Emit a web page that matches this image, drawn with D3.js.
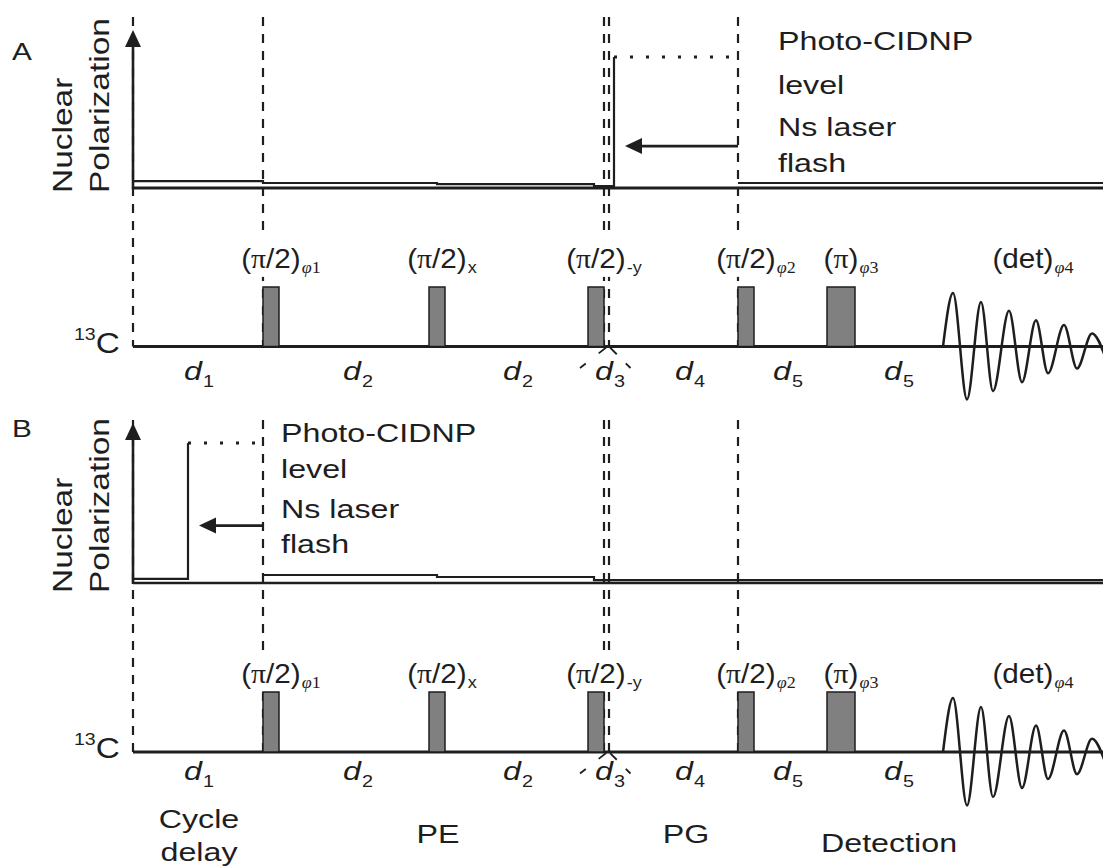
<!DOCTYPE html>
<html>
<head>
<meta charset="utf-8">
<script src="https://cdn.jsdelivr.net/npm/d3@7"></script>
<style>
  body { margin: 0; background: #fff; }
  svg { display: block; }
  text { font-family: "Liberation Sans", Arial, sans-serif; fill: #1e1e1e; }
</style>
</head>
<body>
<svg id="chart" width="1103" height="868"></svg>
<script>
// ---- sequence data (time units along the shared horizontal axis) ----
const panelNames = ["A", "B"];
const markerTimes = [0, 130, 471, 476, 605];          // dashed event markers
const pulseStart = [130, 296, 455, 605, 694];
const pulseLength = [16, 16, 16, 16, 28];
const pulseAngle = ["(π/2)", "(π/2)", "(π/2)", "(π/2)", "(π)"];
const pulsePhase = ["φ1", "x", "-y", "φ2", "φ3"];
const acqStart = 810;
const acqAngle = "(det)";
const acqPhase = "φ4";
// free induction decay extrema: time after acqStart, amplitude (1 = pulse height)
const fidTime = [0, 10, 24, 38, 50, 66, 79, 93, 105, 121, 134, 149, 163];
const fidAmp = [0, 0.90, -0.89, 0.75, -0.75, 0.60, -0.60, 0.44, -0.45, 0.36, -0.37, 0.22, -0.21];
const delayNames = ["1", "2", "2", "3", "4", "5", "5"];
const delayTimes = [66, 225, 385, 477, 557, 655, 766];
const stageNames = [["Cycle", "delay"], ["PE"], ["PG"], ["Detection"]];
const stageTimes = [66, 305, 553, 756];
const noteLines = ["Photo-CIDNP", "level", "Ns laser", "flash"];
// nuclear polarization (1 = photo-CIDNP level)
const flashTimes = [481, 55];
const noteTimes = [605, 130];                          // where the flash arrow starts
const arrowLevels = [0.32, 0.41];
const polBefore = [
  [[0, 0.053], [130, 0.053], [130, 0.038], [304, 0.038], [304, 0.030], [461, 0.030], [461, 0.015], [481, 0.015], [481, 1]],
  [[0, 0.029], [55, 0.029], [55, 1]]
];
const polHeld = [
  [[481, 1], [605, 1]],
  [[55, 1], [130, 1]]
];
const polAfter = [
  [[605, 0.038], [970, 0.038]],
  [[130, 0.057], [304, 0.057], [304, 0.043], [461, 0.043], [461, 0.021], [970, 0.021]]
];

// ---- layout ----
const ink = "#1e1e1e";
const svg = d3.select("#chart");
const x = d3.scaleLinear().domain([0, 970]).range([133, 1103]);
const layout = [
  { polBase: 188, polLevel: 57, axisTop: 30, dashTop: 17, cBase: 346.5, cTop: 287,
    pulseLabelY: 268, delayY: 380, letterY: 60, rotY: 193, noteX: 778, noteY: [50, 94, 136, 172], polStroke: 3 },
  { polBase: 583, polLevel: 443, axisTop: 423, dashTop: 420, cBase: 752, cTop: 692,
    pulseLabelY: 683, delayY: 780, letterY: 437, rotY: 593, noteX: 281, noteY: [442, 478, 518, 553], polStroke: 2.5 }
];
const SX = 1.24;   // horizontal stretch of the lettering

function words(g, str, px, py, size, opts = {}) {
  const t = g.append("text")
    .attr("transform", `translate(${px},${py})` + (opts.rotate ? " rotate(-90)" : "") + ` scale(${opts.sx || SX},1)`)
    .attr("font-size", size)
    .attr("text-anchor", opts.anchor || "start")
    .text(str);
  return t;
}

const gDash = svg.append("g");
const gMask = svg.append("g");
const gMarks = svg.append("g");
const gText = svg.append("g");

panelNames.forEach((name, i) => {
  const L = layout[i];
  const yP = d3.scaleLinear().domain([0, 1]).range([L.polBase, L.polLevel]);
  const yC = d3.scaleLinear().domain([0, 1]).range([L.cBase, L.cTop]);
  const line = d3.line().x(d => x(d[0])).y(d => yP(d[1]));

  // dashed event markers
  gDash.selectAll(null).data(markerTimes).join("line")
    .attr("x1", d => x(d)).attr("x2", d => x(d))
    .attr("y1", L.dashTop).attr("y2", L.cBase)
    .attr("stroke", ink).attr("stroke-width", 2.2)
    .attr("stroke-dasharray", "9,8");

  // polarization axis
  gMarks.append("line")
    .attr("x1", x(0)).attr("x2", x(970)).attr("y1", L.polBase).attr("y2", L.polBase)
    .attr("stroke", ink).attr("stroke-width", L.polStroke);
  gMarks.append("line")
    .attr("x1", x(0)).attr("x2", x(0)).attr("y1", L.polBase + 1).attr("y2", L.axisTop + 12)
    .attr("stroke", ink).attr("stroke-width", 2.6);
  gMarks.append("path")
    .attr("d", `M${x(0)},${L.axisTop} L${x(0) - 8},${L.axisTop + 17} L${x(0) + 8},${L.axisTop + 17} Z`)
    .attr("fill", ink);

  // polarization trace
  gMarks.append("path").datum(polBefore[i]).attr("d", line)
    .attr("fill", "none").attr("stroke", ink).attr("stroke-width", 2.2);
  gMarks.append("path").datum(polHeld[i]).attr("d", line)
    .attr("fill", "none").attr("stroke", ink).attr("stroke-width", 3)
    .attr("stroke-dasharray", "3,13");
  gMarks.append("path").datum(polAfter[i]).attr("d", line)
    .attr("fill", "none").attr("stroke", ink).attr("stroke-width", 2.2);

  // laser flash arrow
  const ay = yP(arrowLevels[i]);
  const tip = x(flashTimes[i]) + 11;
  gMarks.append("line")
    .attr("x1", x(noteTimes[i])).attr("x2", tip + 12).attr("y1", ay).attr("y2", ay)
    .attr("stroke", ink).attr("stroke-width", 2.8);
  gMarks.append("path")
    .attr("d", `M${tip},${ay} L${tip + 17},${ay - 8} L${tip + 17},${ay + 8} Z`)
    .attr("fill", ink);

  // 13C channel baseline
  gMarks.append("line")
    .attr("x1", x(0)).attr("x2", x(970)).attr("y1", L.cBase).attr("y2", L.cBase)
    .attr("stroke", ink).attr("stroke-width", 2.8);

  // pulses
  gMarks.selectAll(null).data(pulseStart).join("rect")
    .attr("x", d => x(d))
    .attr("width", (d, j) => x(d + pulseLength[j]) - x(d))
    .attr("y", yC(1)).attr("height", yC(0) - yC(1))
    .attr("fill", "#808080").attr("stroke", ink).attr("stroke-width", 1.5);

  // detection (FID)
  const fid = d3.line().curve(d3.curveMonotoneX)
    .x((d, j) => x(acqStart + d)).y((d, j) => yC(fidAmp[j]));
  gMarks.append("path").datum(fidTime).attr("d", fid)
    .attr("fill", "none").attr("stroke", ink).attr("stroke-width", 2.5);

  // d3 bracket under the flash
  const apexL = x(474.5), apexR = x(476);
  const legs = [
    { x0: apexL, dx: -27.5, parts: [[0.05, 0.32], [0.79, 1]] },
    { x0: apexR, dx: 21.5, parts: [[0.05, 0.36], [0.78, 1]] }
  ];
  legs.forEach(l => l.parts.forEach(p => {
    gMarks.append("line")
      .attr("x1", l.x0 + l.dx * p[0]).attr("y1", L.cBase + 21.5 * p[0])
      .attr("x2", l.x0 + l.dx * p[1]).attr("y2", L.cBase + 21.5 * p[1])
      .attr("stroke", ink).attr("stroke-width", 1.8);
  }));

  // ---- lettering ----
  words(gText, name, 12, L.letterY, 24);
  words(gText, "Nuclear", 72, L.rotY, 27, { rotate: true });
  words(gText, "Polarization", 109, L.rotY, 27, { rotate: true });
  noteLines.forEach((s, k) => words(gText, s, L.noteX, L.noteY[k], 26));

  const cl = gText.append("text")
    .attr("transform", `translate(74,${L.cBase + 6}) scale(1.15,1)`);
  cl.append("tspan").attr("font-size", 17).attr("dy", -13).text("13");
  cl.append("tspan").attr("font-size", 29).attr("dy", 13).text("C");

  // pulse labels, main part centred over its pulse, phase as subscript
  const labels = pulseAngle.map((a, j) => ({ a, p: pulsePhase[j], c: x(pulseStart[j] + pulseLength[j] / 2) }));
  labels.push({ a: acqAngle, p: acqPhase, c: (x(acqStart) + x(970)) / 2 });
  labels.forEach(lb => {
    const t = gText.append("text").attr("font-size", 28);
    const parts = lb.a.split("π");
    const mains = [];
    parts.forEach((s, k) => {
      if (k > 0) mains.push(t.append("tspan").attr("font-family", "'Liberation Serif', 'Times New Roman', serif").text("π"));
      if (s) mains.push(t.append("tspan").text(s));
    });
    const sub = t.append("tspan").attr("font-size", 17).attr("dy", 5).attr("dx", 1);
    if (lb.p.startsWith("φ")) {
      sub.append("tspan").attr("font-family", "'Liberation Serif', 'Times New Roman', serif").attr("font-style", "italic").text("φ");
      sub.append("tspan").attr("font-family", "'Liberation Serif', 'Times New Roman', serif").text(lb.p.slice(1));
    } else {
      sub.text(lb.p);
    }
    const w = d3.sum(mains, m => m.node().getComputedTextLength());
    const sx = 1.06;
    const tx = lb.c - w * sx / 2;
    t.attr("transform", `translate(${tx},${L.pulseLabelY}) scale(${sx},1)`);
    const bb = t.node().getBBox();
    gMask.append("rect")
      .attr("x", tx + bb.x * sx - 2).attr("width", bb.width * sx + 4)
      .attr("y", L.pulseLabelY + bb.y - 6).attr("height", bb.height + 6)
      .attr("fill", "#fff");
  });

  // delay labels
  delayNames.forEach((n, j) => {
    const t = gText.append("text")
      .attr("transform", `translate(${x(delayTimes[j])},${L.delayY}) scale(${SX},1)`)
      .attr("text-anchor", "middle");
    t.append("tspan").attr("font-size", 26).attr("font-style", "italic").text("d");
    t.append("tspan").attr("font-size", 16).attr("dy", 7).attr("dx", 1).text(n);
  });
});

// stage names under panel B
const stageY = [[828, 861], [843], [843], [852]];
stageNames.forEach((lines, j) => {
  lines.forEach((s, k) => words(gText, s, x(stageTimes[j]), stageY[j][k], 26, { anchor: "middle" }));
});
</script>
</body>
</html>
